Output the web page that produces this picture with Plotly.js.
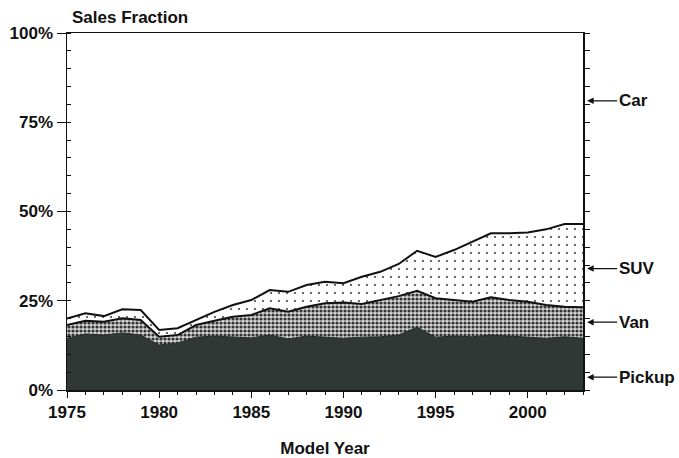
<!DOCTYPE html>
<html>
<head>
<meta charset="utf-8">
<script src="https://cdn.plot.ly/plotly-3.0.1.min.js"></script>
<style>html,body{margin:0;padding:0;background:#fff;}#chart{width:679px;height:458px;}</style>
</head>
<body>
<div id="chart"></div>
<script>
const years = [1975,1976,1977,1978,1979,1980,1981,1982,1983,1984,1985,1986,1987,1988,1989,1990,1991,1992,1993,1994,1995,1996,1997,1998,1999,2000,2001,2002,2003];
const pickup = [14.5,15.7,15.4,16.0,15.4,12.6,13.2,14.8,15.1,14.8,14.6,15.4,14.3,15.1,14.9,14.5,14.8,14.9,15.4,17.6,14.8,15.1,14.9,15.4,15.1,14.9,14.5,14.9,14.5];
const van = [3.7,3.7,3.7,4.1,4.2,2.3,2.2,3.4,4.3,5.7,6.4,7.5,7.6,8.2,9.4,10.0,9.3,10.3,10.9,10.2,10.9,10.1,9.8,10.6,10.1,9.8,9.3,8.4,8.7];
const suv = [1.8,2.1,1.6,2.5,2.8,1.9,1.9,1.4,2.5,3.3,4.2,5.1,5.6,6.1,6.0,5.4,7.6,7.9,9.0,11.2,11.6,14.0,16.8,17.9,18.7,19.4,21.2,23.2,23.3];
const car = [80.0,78.5,79.3,77.4,77.6,83.2,82.7,80.4,78.1,76.2,74.8,72.0,72.5,70.6,69.7,70.1,68.3,66.9,64.7,61.0,62.7,60.8,58.5,56.1,56.1,55.9,55.0,53.5,53.5];
const yTickVals = [0,25,50,75,100];
const yTickText = ['0%','25%','50%','75%','100%'];
const labels = ['Car','SUV','Van','Pickup'];
const labelY = [81,34,19,3.6];

const F = 'Liberation Sans, Arial, sans-serif';

const traces = [
  {x: years, y: pickup, stackgroup: 'one', mode: 'lines', name: 'Pickup',
   line: {color: '#1e2522', width: 1}, fillcolor: '#2f3834'},
  {x: years, y: van, stackgroup: 'one', mode: 'lines', name: 'Van',
   line: {color: '#111', width: 2},
   fillpattern: {shape: '.', fgcolor: '#333', bgcolor: '#d4d4d4', size: 4, solidity: 0.5}},
  {x: years, y: suv, stackgroup: 'one', mode: 'lines', name: 'SUV',
   line: {color: '#111', width: 2},
   fillpattern: {shape: '.', fgcolor: '#222', bgcolor: '#ffffff', size: 8, solidity: 0.04}},
  {x: years, y: car, stackgroup: 'one', mode: 'lines', name: 'Car',
   line: {color: 'rgba(0,0,0,0)', width: 0}, fillcolor: '#ffffff'},
  {x: [years[0]], y: [0], yaxis: 'y2', mode: 'markers', marker: {opacity: 0}, hoverinfo: 'skip', showlegend: false}
];

const annotations = labels.map((t, i) => ({
  x: 1.008, xref: 'paper', y: labelY[i], yref: 'y',
  text: '<b>' + t + '</b>', showarrow: true, arrowhead: 2, arrowsize: 1, arrowwidth: 1.3,
  arrowcolor: '#111', ax: 30, ay: 0, xanchor: 'left',
  font: {family: F, size: 17, color: '#111'}
}));
annotations.push({
  x: 0.005, xref: 'paper', y: 1.012, yref: 'paper', xanchor: 'left', yanchor: 'bottom',
  text: '<b>Sales Fraction</b>', showarrow: false, font: {family: F, size: 17, color: '#111'}
});

const layout = {
  width: 679, height: 458,
  margin: {l: 67, r: 96, t: 33, b: 68},
  paper_bgcolor: '#fff', plot_bgcolor: '#fff',
  showlegend: false,
  font: {family: F, color: '#111'},
  xaxis: {
    range: [1975, 2003], tickvals: [1975,1980,1985,1990,1995,2000], ticks: 'outside', ticklen: 6,
    tickcolor: '#111', showgrid: false, zeroline: false, showline: true, linecolor: '#111', linewidth: 1.5,
    mirror: true,
    minor: {dtick: 1, tick0: 1975, ticks: 'outside', ticklen: 3, tickcolor: '#111'},
    tickfont: {family: F, size: 17, weight: 'bold', color: '#111'},
    title: {text: '<b>Model Year</b>', font: {family: F, size: 17, color: '#111'}, standoff: 21}
  },
  yaxis: {
    range: [0, 100], tickvals: yTickVals, ticktext: yTickText, ticks: 'outside', ticklen: 9,
    tickcolor: '#111', showgrid: false, zeroline: false, showline: true, linecolor: '#111', linewidth: 1.5,
    minor: {dtick: 5, tick0: 0, ticks: 'inside', ticklen: 4, tickcolor: '#111'},
    tickfont: {family: F, size: 17, weight: 'bold', color: '#111'}
  },
  yaxis2: {
    range: [0, 100], overlaying: 'y', side: 'right', dtick: 5, ticks: 'outside', ticklen: 5,
    tickcolor: '#111', showticklabels: false, showgrid: false, zeroline: false,
    showline: true, linecolor: '#111', linewidth: 1.5
  },
  annotations: annotations
};

Plotly.newPlot('chart', traces, layout, {displayModeBar: false, staticPlot: true});
</script>
</body>
</html>
